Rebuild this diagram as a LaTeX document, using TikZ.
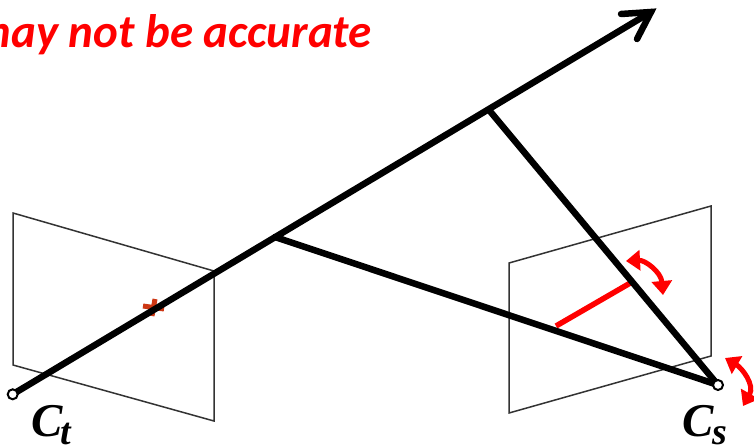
\documentclass[tikz,border=0pt]{standalone}
\usepackage{fontspec}
\setmainfont{Carlito}
\newfontfamily\labelfont{Liberation Serif}
\usetikzlibrary{arrows.meta}
\tikzset{
  x=1pt,y=-1pt,
  plane/.style={draw=black!80,line width=1.5pt,line join=miter},
  ray/.style={draw=black,line width=6.5pt,line cap=round},
  redray/.style={draw=red,line width=5.5pt},
  rot/.style={draw=red,line width=5pt,{Triangle[width=20pt,length=14pt]}-{Triangle[width=20pt,length=14pt]}},
  camera/.style={circle,draw=black,fill=white,line width=2pt,minimum size=10pt,inner sep=0pt},
  caption/.style={text=red,font=\fontsize{47}{50}\selectfont\bfseries\itshape,inner sep=0pt,anchor=base east},
  camlabel/.style={font=\labelfont\fontsize{47}{50}\selectfont\bfseries\itshape,inner sep=0pt,anchor=base west},
  camsub/.style={font=\labelfont\fontsize{38}{40}\selectfont\bfseries\itshape,inner sep=0pt,anchor=base west},
}
\begin{document}
\begin{tikzpicture}
\useasboundingbox (0,0) rectangle (754,447);
\clip (0,0) rectangle (754,447);
\fill[white] (0,0) rectangle (754,447);
% caption, cut off by the left edge
\node[caption] (cap) at (372,47) {may not be accurate};
% image planes
\draw[plane] (13,213) -- (214,271) -- (214,421) -- (13,365) -- cycle;
\draw[plane] (509,263) -- (711,206) -- (711,356) -- (509,413) -- cycle;
% projected point marker
\coordinate (mark) at (153,307);
\draw[draw={rgb,255:red,205;green,55;blue,20},line width=5pt] (143,306) -- (164,309) (155,299) -- (152,316);
% named points
\coordinate (ct) at (12.7,394.3);
\coordinate (cs) at (718,385);
\coordinate (tip) at (651,12);
\coordinate (far) at (489,110);
\coordinate (near) at (275,237);
\coordinate (ra) at (556,326);
\coordinate (rb) at (632,282);
% red segment and rays
\draw[redray] (ra) -- (rb);
\draw[ray] (ct) -- (tip);
\draw[ray] (far) -- (cs);
\draw[ray] (near) -- (cs);
\draw[ray,line join=miter,line cap=round] (621,14) -- (tip) -- (637,39);
% rotation arrows
\coordinate (ua) at (626,261);
\coordinate (ub) at (663,295);
\coordinate (va) at (725,358);
\coordinate (vb) at (743,406);
\draw[rot] (ua) .. controls (645,260) and (661,272) .. (ub);
\draw[rot] (va) .. controls (742,368) and (755,385) .. (vb);
% camera centres
\node[camera] (nct) at (ct) {};
\node[camera] (ncs) at (cs) {};
% labels
\node[camlabel] (lt) at (31,436) {C};
\node[camsub] (lts) at (60,444) {t};
\node[camlabel] (ls) at (682,436) {C};
\node[camsub] (lss) at (712,444) {s};
\end{tikzpicture}
\end{document}
